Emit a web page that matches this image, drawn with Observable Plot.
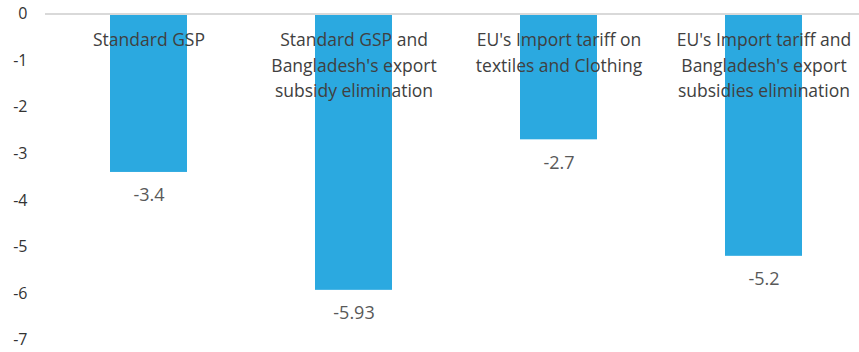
<!DOCTYPE html>
<html>
<head>
<meta charset="utf-8">
<script src="https://cdn.jsdelivr.net/npm/d3@7"></script>
<script src="https://cdn.jsdelivr.net/npm/@observablehq/plot@0.6"></script>
<style>
  html, body { margin: 0; padding: 0; background: #fff; }
  #chart svg { display: block; }
</style>
</head>
<body>
<div id="chart"></div>
<script>
const categories = [
  "Standard GSP",
  "Standard GSP and\nBangladesh's export\nsubsidy elimination",
  "EU's Import tariff on\ntextiles and Clothing",
  "EU's Import tariff and\nBangladesh's export\nsubsidies elimination"
];
const values = [-3.4, -5.93, -2.7, -5.2];
const yTicks = [0, -1, -2, -3, -4, -5, -6, -7];

const data = categories.map((c, i) => ({category: c, value: values[i]}));

const chart = Plot.plot({
  width: 859,
  height: 352,
  marginLeft: 45,
  marginRight: 0,
  marginTop: 13.5,
  marginBottom: 12.3,
  style: {fontFamily: "'Open Sans', sans-serif", fontSize: "16px", background: "#fff", overflow: "visible"},
  x: {domain: categories, range: [45, 866], paddingInner: 0.625, paddingOuter: 0.3125, axis: null},
  y: {domain: [-7, 0], axis: null},
  marks: [
    Plot.barY(data, {x: "category", y: "value", fill: "#2ba9e0"}),
    Plot.ruleY([0], {stroke: "#d9d9d9", strokeWidth: 2}),
    Plot.axisY(yTicks, {
      tickSize: 0, tickPadding: 18, tickFormat: d => String(d), label: null,
      fontSize: 16, fill: "#333", textAnchor: "end"
    }),
    Plot.text(data, {
      x: "category", y: () => 0, text: "category",
      lineAnchor: "top", lineHeight: 1.457, dy: 14,
      fontSize: 17.5, fill: "#404040"
    }),
    Plot.text(data, {
      x: "category", y: "value", text: d => String(d.value),
      lineAnchor: "middle", dy: 23,
      fontSize: 18, fill: "#595959"
    })
  ]
});
document.getElementById("chart").appendChild(chart);
</script>
</body>
</html>
